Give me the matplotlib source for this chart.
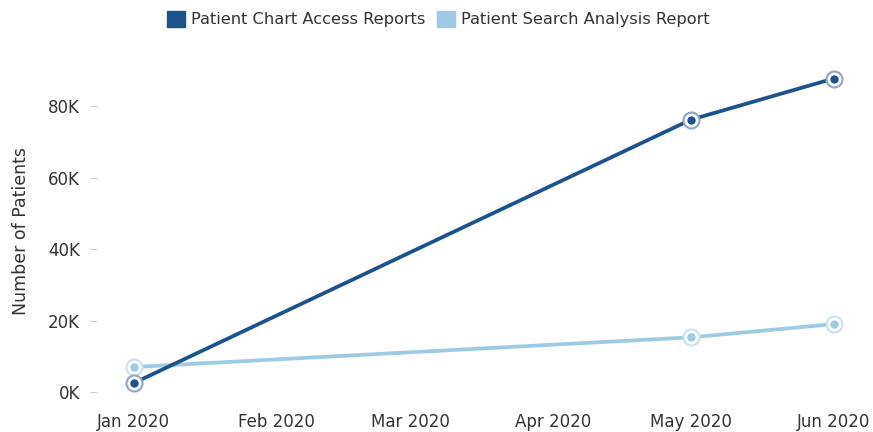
import matplotlib
matplotlib.use("Agg")
import matplotlib.pyplot as plt
from matplotlib.ticker import FuncFormatter
from matplotlib.patches import Patch
import datetime as dt

dates = [dt.date(2020, 1, 1), dt.date(2020, 5, 1), dt.date(2020, 6, 1)]
chart_access = [2500, 76200, 87700]
search_analysis = [7000, 15300, 19000]
series_names = ["Patient Chart Access Reports", "Patient Search Analysis Report"]
tick_dates = [dt.date(2020, m, 1) for m in range(1, 7)]
tick_labels = ["Jan 2020", "Feb 2020", "Mar 2020", "Apr 2020", "May 2020", "Jun 2020"]
y_ticks = [0, 20000, 40000, 60000, 80000]

dark = "#1c538c"
light = "#9ecae3"
text_color = "#333333"

plt.rcParams['font.family'] = ['DejaVu Sans']

fig = plt.figure(figsize=(8.73, 4.32), dpi=100)
ax = fig.add_axes([0.111, 0.076, 0.881, 0.844])

for vals, col, ring in [(search_analysis, light, "#c9e2f1"), (chart_access, dark, "#8aa7c6")]:
    ax.plot(dates, vals, color=col, lw=2.7, solid_capstyle="round", zorder=2)
    ax.plot(dates, vals, ls="none", marker="o", ms=11.5, mfc="white", mec=ring, mew=1.5, zorder=3)
    ax.plot(dates, vals, ls="none", marker="o", ms=6, mfc=col, mec=col, mew=0, zorder=4)

ax.set_xlim(dt.date(2019, 12, 24), dt.date(2020, 6, 8))
ax.set_ylim(-2000, 100000)
ax.set_xticks(tick_dates)
ax.set_xticklabels(tick_labels)
ax.set_yticks(y_ticks)
ax.yaxis.set_major_formatter(FuncFormatter(lambda v, p: f"{int(v/1000)}K"))
for s in ax.spines.values():
    s.set_visible(False)
ax.tick_params(axis="x", length=0, pad=10, labelsize=12, labelcolor=text_color)
ax.tick_params(axis="y", length=5, width=0.8, color="#cccccc", pad=7, labelsize=12, labelcolor=text_color)
ax.set_ylabel("Number of Patients", fontsize=12.5, color=text_color)
ax.yaxis.set_label_coords(-0.087, 0.46)

handles = [Patch(facecolor=dark, edgecolor=dark), Patch(facecolor=light, edgecolor=light)]
fig.legend(handles, series_names, loc="upper center", bbox_to_anchor=(0.502, 1.008), ncol=2,
           frameon=False, fontsize=11.7, handlelength=1.1, handleheight=1.1, handletextpad=0.35,
           columnspacing=0.75, labelcolor=text_color)

fig.savefig("out.png", dpi=100)
